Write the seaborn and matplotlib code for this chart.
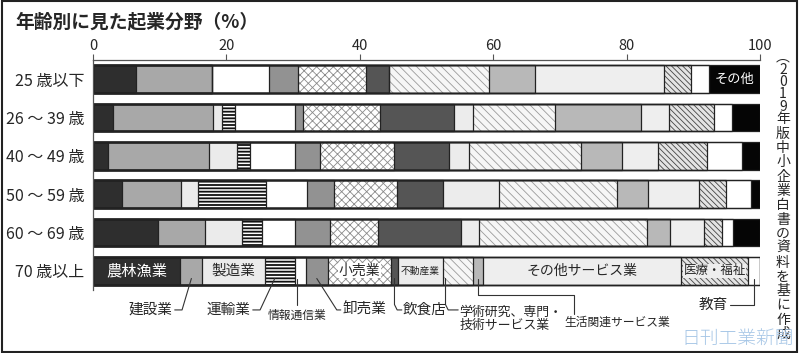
import matplotlib
matplotlib.use("Agg")
import matplotlib.pyplot as plt
import matplotlib.patches as mpatches
import numpy as np
import pandas as pd
import seaborn as sns

ages = ["25 歳以下", "26 ～ 39 歳", "40 ～ 49 歳", "50 ～ 59 歳", "60 ～ 69 歳", "70 歳以上"]
fields = ["農林漁業", "建設業", "製造業", "運輸業", "情報通信業", "卸売業", "小売業", "飲食店",
          "不動産業", "学術研究、専門・技術サービス業", "生活関連サービス業", "その他サービス業",
          "医療・福祉", "教育", "その他"]

# shares (%) per age group, same order as fields
age_25 = [6.4, 11.4, 0.0, 0.0, 8.6, 4.3, 10.3, 3.4, 0.0, 15.0, 6.9, 19.3, 4.1, 2.7, 7.6]
age_26_39 = [3.0, 15.0, 1.3, 2.0, 9.0, 1.2, 11.5, 11.1, 2.8, 12.4, 12.8, 4.3, 6.7, 2.7, 4.2]
age_40_49 = [2.3, 15.1, 4.2, 1.9, 6.8, 3.7, 11.2, 8.1, 3.1, 16.8, 6.1, 5.4, 7.3, 5.3, 2.7]
age_50_59 = [4.3, 8.9, 2.5, 10.3, 6.1, 4.0, 9.5, 6.8, 8.4, 17.7, 4.7, 7.7, 4.0, 3.8, 1.3]
age_60_69 = [9.7, 7.1, 5.5, 3.0, 5.0, 5.2, 7.2, 12.4, 2.7, 25.3, 3.4, 5.1, 2.7, 1.6, 4.1]
age_70 = [13.1, 3.3, 9.4, 4.5, 1.6, 3.3, 9.5, 1.0, 6.7, 4.5, 1.5, 29.8, 10.0, 1.8, 0.0]

# look of each field (face, hatch, hatch colour)
faces = ["#2e2e2e", "#a8a8a8", "#ebebeb", "white", "white", "#929292", "white", "#555555",
         "#ececec", "#f6f6f6", "#b8b8b8", "#eeeeee", "#e4e4e4", "white", "#050505"]
hatches = [None, None, None, "-----", None, None, "xxxx", None,
           None, "\\\\\\\\", None, None, "\\\\\\\\\\\\", None, None]
hatch_cols = ["#222", "#222", "#222", "#111", "#222", "#222", "#8a8a8a", "#222",
              "#222", "#9a9a9a", "#222", "#222", "#444", "#222", "#222"]

rows = [age_25, age_26_39, age_40_49, age_50_59, age_60_69, age_70]
records = []
for age, vals in zip(ages, rows):
    cum = np.cumsum(vals)
    for f, v, c in zip(fields, vals, cum):
        records.append({"age": age, "field": f, "value": v, "cum": c})
df = pd.DataFrame(records)

sns.set_style("white")
plt.rcParams["font.family"] = ["Noto Sans CJK JP", "DejaVu Sans"]

fig = plt.figure(figsize=(7.99, 3.53), dpi=100)
ax = fig.add_axes([93 / 799, 1 - 290 / 353, 667 / 799, 230 / 353])

# stacked bars: draw cumulative totals from the last field backwards
for i in reversed(range(len(fields))):
    sub = df[df["field"] == fields[i]]
    sns.barplot(data=sub, x="cum", y="age", order=ages, orient="h", ax=ax,
                color=faces[i], saturation=1, width=0.73, errorbar=None,
                hatch=hatches[i], edgecolor=hatch_cols[i], linewidth=0)
    for p in ax.patches[-len(ages):]:
        if hatches[i] and hasattr(p, "set_hatch_linewidth"):
            p.set_hatch_linewidth(1.3 if fields[i] == "運輸業" else 0.6)
# outlines
for i in reversed(range(len(fields))):
    sub = df[df["field"] == fields[i]]
    sns.barplot(data=sub, x="cum", y="age", order=ages, orient="h", ax=ax,
                fill=False, color="#222222", width=0.73, errorbar=None, linewidth=0.9)

ax.set_xlim(0, 100)
ax.set_ylim(5.5, -0.5)
ax.set_xlabel("")
ax.set_ylabel("")
ax.xaxis.tick_top()
ax.set_xticks(range(0, 101, 20))
ax.tick_params(axis="x", top=True, length=4, width=0.8, color="#555", labelsize=10.5, pad=1)
ax.tick_params(axis="y", length=0, labelsize=11.5, pad=6)
for s in ["right", "bottom"]:
    ax.spines[s].set_visible(False)
for s in ["top", "left"]:
    ax.spines[s].set_color("#555")
    ax.spines[s].set_linewidth(0.9)

# labels on the 70+ row
v70 = np.array(age_70)
c70 = np.cumsum(v70) - v70 / 2
r = 5
ax.text(c70[0], r, "農林漁業", color="white", ha="center", va="center", fontsize=11)
ax.text(c70[2], r, "製造業", ha="center", va="center", fontsize=10.5)
ax.text(c70[6], r, "小売業", ha="center", va="center", fontsize=10,
        bbox=dict(fc="white", ec="none", pad=0.3))
ax.text(c70[8], r, "不動産業", ha="center", va="center", fontsize=7)
ax.text(c70[11], r, "その他サービス業", ha="center", va="center", fontsize=10)
ax.text(c70[12], r, "医療・福祉", ha="center", va="center", fontsize=9,
        bbox=dict(fc="#eeeeee", ec="none", pad=0.3))
c25 = np.cumsum(age_25) - np.array(age_25) / 2
ax.text(c25[14], 0, "その他", color="white", ha="center", va="center", fontsize=9.5)


def leader(xs, ys):
    ax.plot(xs, ys, color="#333", lw=0.8, clip_on=False)


ly = 6.02
lk = dict(fontsize=10.5, va="center", clip_on=False)
c = c70[1]
ax.text(c - 2.8, ly, "建設業", ha="right", **lk)
leader([c - 2.5, c - 1.4, c], [ly, ly, 5.2])
c = c70[3]
ax.text(c - 4.4, ly, "運輸業", ha="right", **lk)
leader([c - 4.1, c - 3.0, c - 0.8], [ly, ly, 5.2])
c = c70[4]
ax.text(c - 0.5, 6.17, "情報通信業", ha="center", fontsize=8.5, va="center")
leader([c - 0.5, c - 0.5], [5.2, 5.9])
c = c70[5]
ax.text(c + 3.9, ly, "卸売業", ha="left", **lk)
leader([c + 3.6, c + 3.0, c], [ly, ly, 5.2])
c = c70[7]
ax.text(c + 1.3, ly, "飲食店", ha="left", **lk)
leader([c, c, c + 0.4, c + 1.1], [5.2, 5.88, ly, ly])
c = c70[9]
ax.text(c + 0.3, 6.25, "学術研究、専門・\n技術サービス業", ha="left", va="center",
        fontsize=9.3, linespacing=1.0)
leader([c - 1.8, c - 1.8, c - 1.4, c + 0.1], [5.2, 5.88, ly, ly])
c = c70[10]
ax.text(c + 21.0, 6.34, "生活関連サービス業", ha="center", va="center", fontsize=8.5)
leader([c, c, c + 14.5, c + 14.5], [5.2, 5.63, 5.63, 6.12])
c = c70[13]
ax.text(c - 3.9, 5.89, "教育", ha="right", fontsize=10.5, va="center")
leader([c - 3.6, c, c], [5.89, 5.89, 5.2])

fig.text(15 / 799, 1 - 22 / 353, "年齢別に見た起業分野（%）", fontsize=13.5,
         fontweight="bold", va="center", ha="left")

# vertical source note (closing bracket hidden under the logo in the original)
note = "︵2019年版中小企業白書の資料を基に作成"
y = 57
for ch in note:
    fig.text(783 / 799, 1 - y / 353, ch, fontsize=10, ha="center", va="center")
    y += 12.5 if ch.isdigit() or ch == "︵" else 14.3

fig.text(794 / 799, 1 - 340 / 353, "日刊工業新聞", fontsize=13.5, color="#a6c6e6",
         ha="right", va="center", fontweight="light")

fig.add_artist(mpatches.Rectangle((0.002, 0.003), 0.996, 0.994, transform=fig.transFigure,
                                  fill=False, lw=1.5, ec="#222"))

fig.savefig("out.png", dpi=100)
